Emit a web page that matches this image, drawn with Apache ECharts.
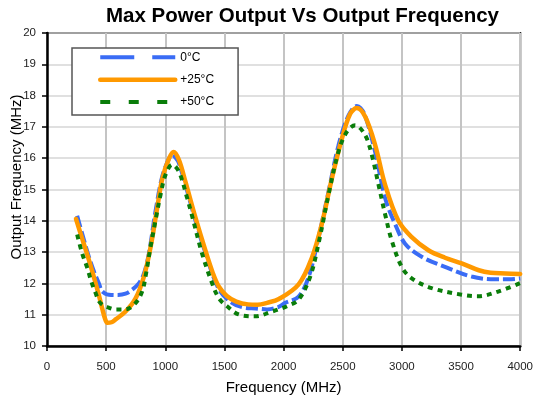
<!DOCTYPE html>
<html>
<head>
<meta charset="utf-8">
<script src="https://cdn.jsdelivr.net/npm/echarts@6/dist/echarts.min.js"></script>
<style>html,body{margin:0;padding:0;background:#fff}#c{width:536px;height:400px}</style>
</head>
<body>
<div id="c"></div>
<script>
const titleText = 'Max Power Output Vs Output Frequency';
const xName = 'Frequency (MHz)';
const yName = 'Output Frequency (MHz)';
const seriesNames = ['0°C', '+25°C', '+50°C'];

const freq0 = [255,300,354,400,439,460,490,523,600,664,720,776,818,861,917,973,1030,1058,1090,1114,1170,1255,1339,1452,1564,1660,1761,1860,1958,2014,2127,2211,2295,2380,2464,2548,2619,2650,2689,2774,2858,2942,3027,3167,3364,3589,3786,3900,4000];
const val0  = [14.16,13.55,12.85,12.35,12.0,11.78,11.68,11.64,11.63,11.67,11.8,12.0,12.3,12.95,14.3,15.4,15.98,16.1,16.0,15.85,15.15,14.0,12.98,11.82,11.38,11.23,11.2,11.17,11.25,11.38,11.58,12.2,13.46,14.94,16.41,17.36,17.67,17.6,17.36,16.2,14.73,13.9,13.27,12.85,12.53,12.22,12.13,12.13,12.16];

const freq25 = [245,300,354,400,440,470,490,509,545,580,664,749,818,875,931,975,1030,1070,1115,1170,1255,1339,1400,1452,1520,1600,1700,1780,1860,1960,2127,2239,2323,2408,2492,2563,2619,2689,2774,2858,2970,3083,3224,3364,3505,3650,3750,3875,4000];
const val25  = [14.06,13.4,12.75,12.15,11.6,11.15,10.88,10.74,10.76,10.85,11.1,11.52,12.2,13.15,14.4,15.35,15.98,16.2,15.95,15.25,14.1,13.05,12.35,11.9,11.6,11.42,11.33,11.32,11.38,11.5,11.97,12.82,13.9,15.35,16.62,17.42,17.6,17.33,16.42,15.15,14.0,13.48,13.06,12.82,12.64,12.42,12.34,12.32,12.3];

const freq50 = [255,298,340,375,410,439,475,509,580,664,748,804,833,875,917,960,1002,1058,1114,1184,1226,1311,1395,1452,1522,1620,1761,1901,1958,2040,2127,2225,2295,2380,2464,2534,2605,2689,2745,2802,2858,2914,2998,3083,3252,3505,3645,3814,4000];
const val50  = [13.56,12.95,12.5,12.05,11.7,11.43,11.3,11.24,11.17,11.17,11.37,11.74,12.22,13.16,14.0,14.84,15.47,15.79,15.58,14.74,14.16,12.95,12.01,11.53,11.27,11.01,10.95,11.1,11.17,11.29,11.48,12.22,13.27,14.84,16.21,16.84,17.05,16.74,16.11,15.16,14.21,13.37,12.53,12.16,11.85,11.64,11.59,11.74,12.01];

const pairs = (xs, ys) => xs.map((x, i) => [x, ys[i]]);
const FONT = 'Liberation Sans, Arial, sans-serif';

const chart = echarts.init(document.getElementById('c'), null, {renderer: 'canvas'});
chart.setOption({
  animation: false,
  backgroundColor: '#fff',
  title: {
    text: titleText, left: 106, top: 6, padding: 0,
    textStyle: {fontFamily: FONT, fontSize: 20.5, fontWeight: 'bold', color: '#000'}
  },
  grid: {left: 47, right: 13.5, top: 33, bottom: 49.5, show: true, borderColor: '#000', borderWidth: 2, backgroundColor: 'transparent'},
  legend: {
    orient: 'vertical', left: 72, top: 48,
    padding: [2.3, 24, 6, 26],
    itemWidth: 75, itemHeight: 14, itemGap: 8.4,
    backgroundColor: '#fff', borderColor: '#555', borderWidth: 1.5, borderRadius: 0,
    textStyle: {fontFamily: FONT, fontSize: 12, lineHeight: 14, color: '#000'},
    itemStyle: {opacity: 0},
    lineStyle: {width: 4},
    data: [
      {name: seriesNames[0], itemStyle: {opacity: 0}, lineStyle: {type: [34, 18], width: 4}},
      {name: seriesNames[1], itemStyle: {opacity: 0}, lineStyle: {type: 'solid', width: 4.5, cap: 'round'}},
      {name: seriesNames[2], itemStyle: {opacity: 0}, lineStyle: {type: [10, 18.5], width: 4}}
    ]
  },
  xAxis: {
    type: 'value', min: 0, max: 4000, interval: 500,
    name: xName, nameLocation: 'middle', nameGap: 34,
    nameTextStyle: {fontFamily: FONT, fontSize: 15, color: '#000'},
    axisLine: {show: true, lineStyle: {color: '#000', width: 2.5}},
    axisTick: {show: true, inside: false, length: 5, lineStyle: {color: '#000', width: 1.5}},
    axisLabel: {fontFamily: FONT, fontSize: 11.5, color: '#222', margin: 15, formatter: v => String(v)},
    splitLine: {show: true, lineStyle: {color: '#c4c4c4', width: 2}}
  },
  yAxis: {
    type: 'value', min: 10, max: 20, interval: 1,
    axisLine: {show: true, lineStyle: {color: '#000', width: 2.5}},
    axisTick: {show: true, inside: false, length: 5, lineStyle: {color: '#000', width: 1.5}},
    axisLabel: {fontFamily: FONT, fontSize: 11.5, color: '#222', margin: 11},
    splitLine: {show: true, lineStyle: {color: '#d6d6d6', width: 1.5}}
  },
  graphic: [{
    type: 'text', x: 17, y: 177, rotation: Math.PI / 2,
    style: {text: yName, fontFamily: FONT, fontSize: 15, fill: '#000', textAlign: 'center', textVerticalAlign: 'middle'}
  }],
  series: [
    {name: seriesNames[0], type: 'line', data: pairs(freq0, val0), smooth: 0.35, symbol: 'none',
     lineStyle: {color: '#3a6cf5', width: 4, type: [12, 4]}, itemStyle: {color: '#3a6cf5'}, z: 2},
    {name: seriesNames[1], type: 'line', data: pairs(freq25, val25), smooth: 0.35, symbol: 'none',
     lineStyle: {color: '#ff9900', width: 4.5, cap: 'round', join: 'round'}, itemStyle: {color: '#ff9900'}, z: 3},
    {name: seriesNames[2], type: 'line', data: pairs(freq50, val50), smooth: 0.35, symbol: 'none',
     lineStyle: {color: '#0a7d0a', width: 4, type: [5, 5]}, itemStyle: {color: '#0a7d0a'}, z: 4}
  ]
});
</script>
</body>
</html>
